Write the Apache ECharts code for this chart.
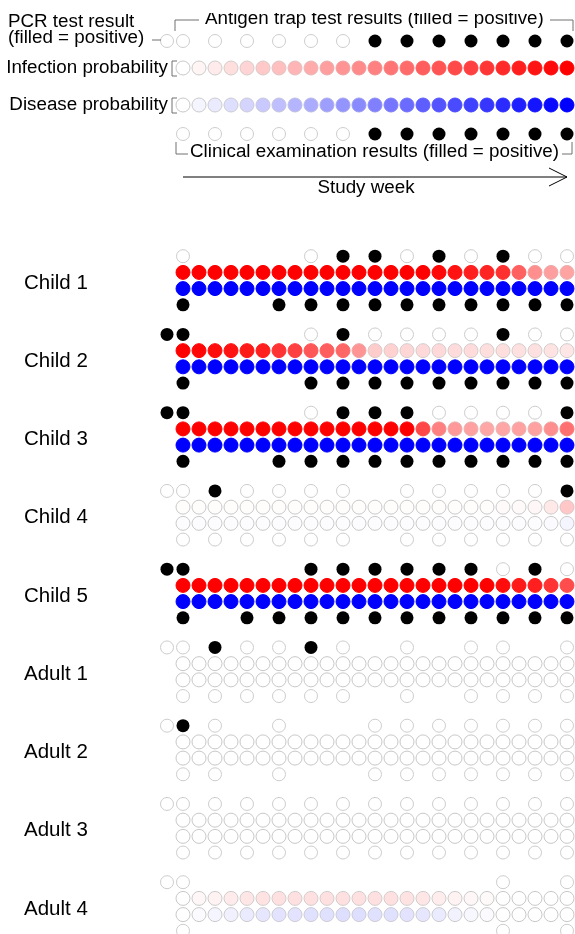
<!DOCTYPE html>
<html>
<head>
<meta charset="utf-8">
<script src="https://cdn.jsdelivr.net/npm/echarts@6/dist/echarts.min.js"></script>
<style>
  html, body { margin: 0; padding: 0; background: #fff; }
  #chart { width: 575px; height: 934px; }
</style>
</head>
<body>
<div id="chart"></div>
<script>
// ---- data ----
const _ = null; // test not done that week
const weeks = [1, 2, 3, 4, 5, 6, 7, 8, 9, 10, 11, 12, 13, 14, 15, 16, 17, 18, 19, 20, 21, 22, 23, 24, 25];
const people = ['Child 1', 'Child 2', 'Child 3', 'Child 4', 'Child 5', 'Adult 1', 'Adult 2', 'Adult 3', 'Adult 4'];

// PCR result at enrolment (1 = positive, 0 = negative, null = none)
const pcrResults = [_, 1, 1, 0, 1, 0, 0, 0, 0];

// antigen trap test results per study week
const antigenResults = [
  [0,_,_,_,_,_,_,_,0,_,1,_,1,_,0,_,1,_,0,_,1,_,0,_,0],
  [1,_,_,_,_,_,_,_,0,_,1,_,0,_,0,_,0,_,0,_,1,_,0,_,0],
  [1,_,_,_,_,_,_,_,0,_,1,_,1,_,1,_,0,_,0,_,0,_,0,_,1],
  [0,_,1,_,0,_,0,_,0,_,0,_,_,_,0,_,0,_,0,_,0,_,0,_,1],
  [1,_,_,_,_,_,_,_,1,_,1,_,1,_,1,_,1,_,1,_,0,_,1,_,0],
  [0,_,1,_,0,_,0,_,1,_,0,_,_,_,0,_,_,_,0,_,0,_,_,_,0],
  [1,_,0,_,_,_,0,_,_,_,_,_,0,_,0,_,0,_,0,_,0,_,0,_,0],
  [0,_,0,_,0,_,0,_,0,_,0,_,0,_,0,_,0,_,0,_,0,_,0,_,0],
  [0,_,_,_,_,_,_,_,_,_,_,_,_,_,_,_,_,_,_,_,0,_,_,_,0]
];

// clinical examination results per study week
const clinicalResults = [
  [1,_,_,_,_,_,1,_,1,_,1,_,1,_,1,_,1,_,1,_,1,_,1,_,1],
  [1,_,_,_,_,_,_,_,1,_,1,_,1,_,1,_,1,_,1,_,1,_,1,_,1],
  [1,_,_,_,_,_,1,_,1,_,1,_,1,_,1,_,1,_,1,_,1,_,1,_,1],
  [0,_,0,_,0,_,0,_,0,_,0,_,_,_,0,_,0,_,0,_,0,_,0,_,0],
  [1,_,_,_,1,_,1,_,1,_,1,_,1,_,1,_,1,_,1,_,1,_,1,_,1],
  [0,_,0,_,0,_,0,_,0,_,0,_,_,_,0,_,_,_,0,_,0,_,0,_,0],
  [0,_,0,_,_,_,0,_,_,_,_,_,0,_,0,_,0,_,0,_,0,_,0,_,0],
  [0,_,0,_,0,_,0,_,0,_,0,_,0,_,0,_,0,_,0,_,0,_,0,_,0],
  [0,_,_,_,_,_,_,_,_,_,_,_,_,_,_,_,_,_,_,_,0,_,_,_,0]
];

// weekly infection probability
const infectionProb = [
  [1,1,1,1,1,1,1,1,1,1,1,1,1,1,1,1,0.97,0.93,0.88,0.86,0.81,0.62,0.44,0.38,0.36],
  [1,0.98,0.95,0.93,0.9,0.88,0.8,0.75,0.66,0.63,0.6,0.42,0.2,0.18,0.16,0.15,0.15,0.14,0.14,0.13,0.13,0.12,0.12,0.11,0.1],
  [1,1,1,1,1,1,1,1,1,1,1,1,1,1,1,0.72,0.5,0.4,0.37,0.35,0.35,0.37,0.37,0.44,0.56],
  [0.01,0.01,0.01,0.01,0.01,0.01,0.01,0.01,0.01,0.01,0.01,0.01,0.01,0.01,0.01,0.01,0.01,0.01,0.01,0.01,0.02,0.02,0.03,0.09,0.22],
  [1,1,1,1,1,1,1,1,1,1,1,1,1,1,1,1,1,1,1,1,0.95,0.9,0.88,0.8,0.7],
  [0,0,0,0,0,0,0,0,0,0,0,0,0,0,0,0,0,0,0,0,0,0,0,0,0],
  [0,0,0,0,0,0,0,0,0,0,0,0,0,0,0,0,0,0,0,0,0,0,0,0,0],
  [0,0,0,0,0,0,0,0,0,0,0,0,0,0,0,0,0,0,0,0,0,0,0,0,0],
  [0,0.03,0.05,0.08,0.1,0.11,0.12,0.12,0.12,0.12,0.12,0.12,0.12,0.12,0.11,0.1,0.07,0.05,0.03,0.02,0,0,0,0,0]
];

// weekly disease probability
const diseaseProb = [
  [1,1,1,1,1,1,1,1,1,1,1,1,1,1,1,1,1,1,1,1,1,1,1,1,1],
  [1,1,1,1,1,1,1,1,1,1,1,1,1,1,1,1,1,1,1,1,1,1,1,1,1],
  [1,1,1,1,1,1,1,1,1,1,1,1,1,1,1,1,1,1,1,1,1,1,1,1,1],
  [0.01,0.01,0.01,0.01,0.01,0.01,0.01,0.01,0.01,0.01,0.01,0.01,0.01,0.01,0.01,0.01,0.01,0.01,0.01,0.01,0.01,0.01,0.01,0.02,0.04],
  [1,1,1,1,1,1,1,1,1,1,1,1,1,1,1,1,1,1,1,1,1,1,1,1,1],
  [0,0,0,0,0,0,0,0,0,0,0,0,0,0,0,0,0,0,0,0,0,0,0,0,0],
  [0,0,0,0,0,0,0,0,0,0,0,0,0,0,0,0,0,0,0,0,0,0,0,0,0],
  [0,0,0,0,0,0,0,0,0,0,0,0,0,0,0,0,0,0,0,0,0,0,0,0,0],
  [0,0.02,0.04,0.06,0.08,0.1,0.11,0.11,0.12,0.12,0.13,0.13,0.12,0.12,0.11,0.1,0.08,0.05,0.03,0.02,0,0,0,0,0]
];

// key rows
const keyPcr = 0;
const keyAntigen = [0,_,0,_,0,_,0,_,0,_,0,_,1,_,1,_,1,_,1,_,1,_,1,_,1];
const keyClinical = [0,_,0,_,0,_,0,_,0,_,0,_,1,_,1,_,1,_,1,_,1,_,1,_,1];
const keyProb = [0,0.04,0.08,0.13,0.17,0.21,0.25,0.29,0.33,0.38,0.42,0.46,0.5,0.54,0.58,0.63,0.67,0.71,0.75,0.79,0.83,0.88,0.92,0.96,1];

// ---- layout ----
const FONT = '"Liberation Sans", Arial, sans-serif';
const KEY_FONT = 18.8;
const GROUP = 78.25;   // vertical distance between people
const ROW = 16.2;      // vertical distance between rows of one person
const LABEL_DROP = 2.5; // name sits slightly below the middle of its four rows
const KEY_Y = { antigen: 41, infection: 68, disease: 105, clinical: 134 };
const TEST_SIZE = 13, PROB_SIZE = 14;
const MAIN_TOP = 280.5 + LABEL_DROP - GROUP;
const MAIN_SPAN = 9.3 * GROUP;

function mix(a, b, t) {
  return a.map((v, i) => Math.round(v + (b[i] - v) * t));
}
function rgb(c) { return 'rgb(' + c.join(',') + ')'; }
const GREY = [200, 200, 200];

function testItem(week, y, result) {
  return {
    value: [week, y],
    itemStyle: result
      ? { color: '#000', borderColor: '#000', borderWidth: 0, opacity: 1 }
      : { color: '#fff', borderColor: '#cdcdcd', borderWidth: 1, opacity: 1 }
  };
}
function probItem(week, y, p, full) {
  const fill = mix([255, 255, 255], full, p);
  return {
    value: [week, y],
    itemStyle: { color: rgb(fill), borderColor: rgb(mix(GREY, fill, Math.min(1, p * 1.6))), borderWidth: 1, opacity: 1 }
  };
}
const RED = [255, 0, 0], BLUE = [0, 0, 255];

// key series data
const keyTests = [testItem(0, KEY_Y.antigen, keyPcr)];
const keyInf = [], keyDis = [];
weeks.forEach((w, i) => {
  if (keyAntigen[i] !== null) keyTests.push(testItem(w, KEY_Y.antigen, keyAntigen[i]));
  if (keyClinical[i] !== null) keyTests.push(testItem(w, KEY_Y.clinical, keyClinical[i]));
  keyInf.push(probItem(w, KEY_Y.infection, keyProb[i], RED));
  keyDis.push(probItem(w, KEY_Y.disease, keyProb[i], BLUE));
});

// per-person series data
const mainTests = [], mainInf = [], mainDis = [];
people.forEach((name, g) => {
  const c = (g + 1) * GROUP - LABEL_DROP;
  const yA = c - 1.5 * ROW, yI = c - 0.5 * ROW, yD = c + 0.5 * ROW, yC = c + 1.5 * ROW;
  if (pcrResults[g] !== null) mainTests.push(testItem(0, yA, pcrResults[g]));
  weeks.forEach((w, i) => {
    if (antigenResults[g][i] !== null) mainTests.push(testItem(w, yA, antigenResults[g][i]));
    if (clinicalResults[g][i] !== null) mainTests.push(testItem(w, yC, clinicalResults[g][i]));
    mainInf.push(probItem(w, yI, infectionProb[g][i], RED));
    mainDis.push(probItem(w, yD, diseaseProb[g][i], BLUE));
  });
});

function scatter(gridIndex, data, size) {
  return {
    type: 'scatter', xAxisIndex: gridIndex, yAxisIndex: gridIndex,
    symbol: 'circle', symbolSize: size, data: data,
    itemStyle: { opacity: 1 },
    silent: true, clip: false, emphasis: { disabled: true }
  };
}

const hiddenX = { type: 'value', min: 0, max: 25, show: false };

function txt(x, y, text, align, size) {
  return {
    type: 'text', x: x, y: y, z: 10,
    style: { text: text, fill: '#000', font: (size || KEY_FONT) + 'px ' + FONT,
             align: align || 'left', verticalAlign: 'middle',
             textAlign: align || 'left', textVerticalAlign: 'middle' }
  };
}
function line(points) {
  return { type: 'polyline', z: 10, shape: { points: points },
           style: { stroke: '#707070', lineWidth: 1, fill: null } };
}

const option = {
  animation: false,
  backgroundColor: '#fff',
  grid: [
    { left: 167, width: 400, top: 0, height: 200 },
    { left: 167, width: 400, top: MAIN_TOP, height: MAIN_SPAN }
  ],
  xAxis: [Object.assign({ gridIndex: 0 }, hiddenX), Object.assign({ gridIndex: 1 }, hiddenX)],
  yAxis: [
    { gridIndex: 0, type: 'value', min: 0, max: 200, inverse: true, show: false },
    {
      gridIndex: 1, type: 'value', min: 0, max: MAIN_SPAN, interval: GROUP, inverse: true,
      axisLine: { show: false }, axisTick: { show: false }, splitLine: { show: false },
      axisLabel: {
        align: 'left', margin: 143, color: '#000', fontSize: 20.5, fontFamily: FONT,
        showMaxLabel: false,
        formatter: v => {
          const k = Math.round(v / GROUP) - 1;
          return (Math.abs(v / GROUP - (k + 1)) < 0.01 && people[k]) ? people[k] : '';
        }
      }
    }
  ],
  series: [
    scatter(0, keyInf, PROB_SIZE),
    scatter(0, keyDis, PROB_SIZE),
    scatter(0, keyTests, TEST_SIZE),
    scatter(1, mainInf, PROB_SIZE),
    scatter(1, mainDis, PROB_SIZE),
    scatter(1, mainTests, TEST_SIZE)
  ],
  graphic: [
    txt(8, 22, 'PCR test result'),
    txt(8, 38, '(filled = positive)'),
    line([[152, 40], [161, 40]]),
    txt(205, 18.5, 'Antigen trap test results (filled = positive)'),
    { type: 'rect', z: 20, shape: { x: 198, y: 0, width: 350, height: 13 }, style: { fill: '#fff' } },
    line([[199, 20], [175, 20], [175, 31]]),
    line([[550, 20], [573, 20], [573, 31]]),
    txt(168, KEY_Y.infection, 'Infection probability', 'right'),
    line([[177, 61], [172, 61], [172, 76], [177, 76]]),
    txt(168, KEY_Y.disease, 'Disease probability', 'right'),
    line([[177, 98], [172, 98], [172, 113], [177, 113]]),
    line([[176, 142], [176, 154], [188, 154]]),
    txt(190, 152, 'Clinical examination results (filled = positive)'),
    line([[562, 154], [572, 154], [572, 142]]),
    { type: 'line', z: 10, shape: { x1: 183, y1: 177, x2: 567, y2: 177 }, style: { stroke: '#000', lineWidth: 1 } },
    { type: 'polyline', z: 10, shape: { points: [[549, 168], [567, 177], [549, 186]] }, style: { stroke: '#000', lineWidth: 1, fill: null } },
    txt(366, 188, 'Study week', 'center')
  ]
};

const chart = echarts.init(document.getElementById('chart'), null, { renderer: 'canvas' });
chart.setOption(option);
</script>
</body>
</html>
